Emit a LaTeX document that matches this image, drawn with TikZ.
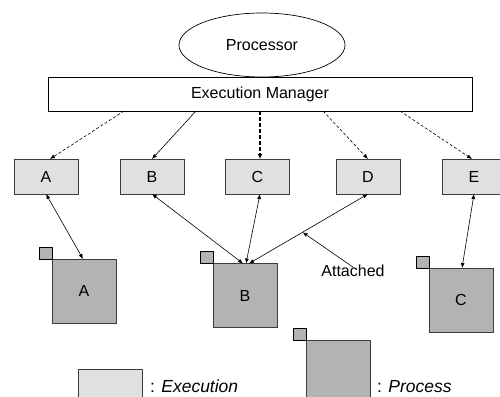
\documentclass[tikz,border=0pt]{standalone}
\usepackage{fontspec}
\setmainfont{Liberation Sans}
\usetikzlibrary{shapes.geometric,arrows.meta,calc}
\definecolor{execfill}{RGB}{224,224,224}
\definecolor{procfill}{RGB}{179,179,179}
\definecolor{edge}{RGB}{60,60,60}
\begin{document}
\begin{tikzpicture}[x=1pt,y=-1pt,
  every node/.style={font=\fontsize{16}{18}\selectfont, inner sep=0pt, outer sep=0pt},
  execbox/.style={draw=edge, fill=execfill, line width=0.9pt, minimum width=64pt, minimum height=35pt},
  procbig/.style={draw=edge, fill=procfill, line width=0.9pt, minimum width=64pt, minimum height=64pt},
  procsmall/.style={draw=black, fill=procfill, line width=0.8pt, minimum width=13pt, minimum height=12pt, anchor=south east},
  tip/.style={-{Latex[length=5pt,width=4pt]}},
  dtip/.style={{Latex[length=5pt,width=4pt]}-{Latex[length=5pt,width=4pt]}},
  conn/.style={line width=0.6pt},
  dconn/.style={line width=0.6pt, dash pattern=on 3pt off 2pt},
  legendtext/.style={anchor=base west, font=\fontsize{17.5}{20}\selectfont},
]
\useasboundingbox (0,0) rectangle (500,396);
% top
\node[draw, ellipse, line width=0.7pt, minimum width=166pt, minimum height=64pt] (proc) at (262,45) {Processor};
\node[draw, line width=0.9pt, fill=white, minimum width=424pt, minimum height=34pt] (em) at (260,94) {Execution Manager};
% executions
\node[execbox] (eA) at (46,176.5) {A};
\node[execbox] (eB) at (152,176.5) {B};
\node[execbox] (eC) at (257.5,176.5) {C};
\node[execbox] (eD) at (368,176.5) {D};
\node[execbox] (eE) at (474,176.5) {E};
% processes
\node[procbig] (pA) at (84,291) {A};
\node[procsmall] (sA) at (pA.north west) {};
\node[procbig] (pB) at (245,295.5) {B};
\node[procsmall] (sB) at (pB.north west) {};
\node[procbig] (pC) at (461,300) {C};
\node[procsmall] (sC) at (pC.north west) {};
% manager to executions
\draw[conn, dconn, tip] ([xshift=76pt]em.south west) -- ([xshift=4pt]eA.north);
\draw[conn, tip] ([xshift=148pt]em.south west) -- (eB.north);
\draw[line width=1.6pt, dash pattern=on 4pt off 2pt, -{Latex[length=5pt,width=5pt]}] ([xshift=212pt]em.south west) -- ([xshift=2.5pt]eC.north);
\draw[conn, dconn, tip] ([xshift=275pt]em.south west) -- (eD.north);
\draw[conn, dconn, tip] ([xshift=352pt]em.south west) -- ([xshift=-2pt]eE.north);
% executions to processes
\draw[conn, dtip] (eA.south) -- ([xshift=-1pt]pA.north);
\draw[conn, dtip] (eB.south) -- ([xshift=-2pt]pB.north);
\draw[conn, dtip] ([xshift=2.5pt]eC.south) -- ([xshift=1pt]pB.north);
\draw[conn, dtip] (eD.south) -- ([xshift=4pt]pB.north) coordinate[pos=0.55] (attpt);
\draw[conn, dtip] (eE.south) -- ([xshift=1pt]pC.north);
% attached label
\node (att) at (353,271) {Attached};
\draw[conn, tip] ([yshift=-2pt]att.north) -- (attpt);
% legend
\node[execbox] (lE) at (110,386.5) {};
\node[legendtext] (lEt) at (150,392) {: \textit{Execution}};
\node[procbig] (lP) at (338,372) {};
\node[procsmall] (lPs) at (lP.north west) {};
\node[legendtext] (lPt) at (377,392) {: \textit{Process}};
\end{tikzpicture}
\end{document}
